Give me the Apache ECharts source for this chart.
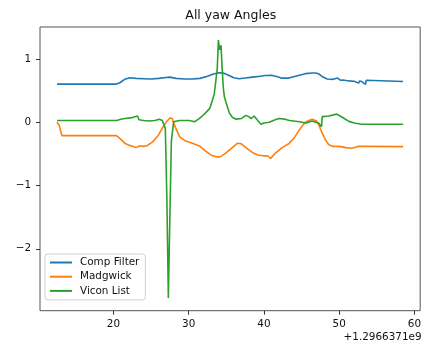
<!DOCTYPE html>
<html>
<head>
<meta charset="utf-8">
<script src="https://cdn.jsdelivr.net/npm/echarts@6/dist/echarts.min.js"></script>
<style>
  html, body { margin: 0; padding: 0; background: #fff; }
  #chart { width: 424px; height: 344px; }
</style>
</head>
<body>
<div id="chart"></div>
<script>
// Time axis values are seconds relative to the 1.2966371e9 offset shown under the axis.
const xTicks = [20, 30, 40, 50, 60];
const yTicks = [-2, -1, 0, 1];
const timeOffsetLabel = '+1.2966371e9';

// Complementary filter yaw estimate
const compT = [12.5, 20.4, 20.9, 21.5, 22.2, 23.0, 24.0, 25.0, 26.0, 27.0, 27.5, 28.3, 29.5, 30.5,
  31.5, 32.5, 33.3, 34.0, 34.6, 35.3, 36.0, 36.7, 37.5, 38.5, 39.5, 40.2, 41.0, 41.8, 42.3, 43.3,
  44.2, 45.5, 46.4, 46.9, 47.3, 47.8, 48.4, 49.2, 49.8, 50.2, 50.5, 51.3, 52.0, 52.6, 52.7, 53.0,
  53.5, 53.6, 53.8, 58.5];
const compV = [0.605, 0.605, 0.63, 0.68, 0.705, 0.695, 0.69, 0.685, 0.695, 0.71, 0.715, 0.695, 0.685, 0.685,
  0.695, 0.73, 0.765, 0.785, 0.78, 0.745, 0.705, 0.69, 0.70, 0.715, 0.73, 0.74, 0.745, 0.72, 0.70, 0.70,
  0.73, 0.77, 0.78, 0.78, 0.765, 0.72, 0.685, 0.68, 0.70, 0.665, 0.67, 0.655, 0.65, 0.62, 0.655, 0.645,
  0.60, 0.665, 0.645, 0.645];

// Madgwick filter yaw estimate
const madgT = [12.5, 12.8, 13.15, 20.4, 21.0, 21.5, 22.0, 22.5, 23.0, 23.5, 24.0, 24.5, 25.2, 26.0,
  26.5, 27.0, 27.5, 27.8, 28.1, 28.8, 29.5, 30.5, 31.5, 32.3, 33.0, 33.8, 34.3, 35.0, 35.8, 36.5,
  37.0, 37.6, 38.5, 39.3, 40.0, 40.5, 40.9, 41.5, 42.4, 43.3, 44.0, 44.7, 45.2, 45.6, 46.4, 47.0,
  47.3, 47.7, 48.2, 48.6, 49.1, 50.0, 50.9, 51.7, 52.6, 53.5, 58.5];
const madgV = [0.0, -0.05, -0.21, -0.21, -0.27, -0.33, -0.36, -0.38, -0.40, -0.37, -0.38, -0.37, -0.31, -0.20,
  -0.09, 0.0, 0.07, 0.06, -0.04, -0.23, -0.29, -0.33, -0.38, -0.46, -0.52, -0.55, -0.54, -0.48, -0.40, -0.33,
  -0.34, -0.40, -0.48, -0.52, -0.53, -0.53, -0.57, -0.49, -0.40, -0.34, -0.25, -0.12, -0.04, 0.01, 0.05, 0.02,
  -0.04, -0.16, -0.28, -0.35, -0.38, -0.38, -0.40, -0.41, -0.38, -0.38, -0.385];

// Vicon motion-capture reference yaw
const viconT = [12.5, 20.4, 21.0, 21.5, 22.3, 23.2, 23.4, 24.0, 24.8, 25.5, 26.1, 26.5, 26.9, 27.1,
  27.3, 27.5, 27.7, 28.0, 28.8, 30.1, 30.8, 31.4, 32.0, 32.4, 32.8, 33.15, 33.4, 33.6, 33.8, 33.95,
  34.1, 34.2, 34.3, 34.45, 34.6, 34.75, 35.0, 35.4, 35.8, 36.3, 37.0, 37.6, 38.0, 38.3, 38.7, 39.1,
  39.6, 40.0, 40.7, 41.5, 42.0, 42.8, 43.4, 44.0, 44.7, 45.6, 46.4, 47.3, 47.65, 47.75, 48.6, 49.7,
  50.4, 51.3, 52.0, 53.0, 58.5];
const viconV = [0.03, 0.03, 0.05, 0.06, 0.07, 0.10, 0.04, 0.03, 0.02, 0.03, 0.05, 0.03, -0.1, -1.2,
  -2.78, -1.5, -0.3, 0.01, 0.03, 0.03, 0.01, 0.06, 0.12, 0.17, 0.22, 0.35, 0.45, 0.65, 0.85, 1.30,
  1.15, 1.12, 1.22, 0.85, 0.55, 0.40, 0.30, 0.15, 0.08, 0.05, 0.06, 0.11, 0.09, 0.06, 0.10, 0.04,
  -0.03, -0.01, 0.0, 0.04, 0.06, 0.05, 0.03, 0.02, 0.01, -0.01, 0.02, -0.015, -0.07, 0.09, 0.10, 0.13,
  0.08, 0.015, -0.01, -0.03, -0.03];

const seriesNames = ['Comp Filter', 'Madgwick', 'Vicon List'];
const seriesColors = ['#1f77b4', '#ff7f0e', '#2ca02c'];

const pair = (ts, vs) => ts.map((t, i) => [t, vs[i]]);
const seriesData = [pair(compT, compV), pair(madgT, madgV), pair(viconT, viconV)];

const FONT = 'DejaVu Sans';
const chart = echarts.init(document.getElementById('chart'), null, { renderer: 'canvas' });

chart.setOption({
  animation: false,
  backgroundColor: '#fff',
  title: {
    text: 'All yaw Angles',
    left: 230.75,
    textAlign: 'center',
    top: 9.5,
    padding: 0,
    textStyle: { fontFamily: FONT, fontSize: 12.5, fontWeight: 'normal', color: '#111' }
  },
  grid: {
    left: 40, top: 27, right: 2.5, bottom: 33.3,
    show: true, borderColor: '#555', borderWidth: 1, backgroundColor: 'transparent'
  },
  xAxis: {
    type: 'value',
    min: 10.24, max: 60.77,
    axisLine: { show: false, onZero: false },
    splitLine: { show: false },
    axisTick: { show: true, length: 4, lineStyle: { color: '#333' }, customValues: xTicks },
    axisLabel: { customValues: xTicks, margin: 8.5, fontFamily: FONT, fontSize: 10.4, color: '#111' }
  },
  yAxis: {
    type: 'value',
    min: -2.98, max: 1.508,
    axisLine: { show: false, onZero: false },
    splitLine: { show: false },
    axisTick: { show: true, length: 4, lineStyle: { color: '#333' }, customValues: yTicks },
    axisLabel: {
      customValues: yTicks, margin: 9, fontFamily: FONT, fontSize: 10.4, color: '#111',
      formatter: v => (v < 0 ? '\u2212' + Math.abs(v) : String(v))
    }
  },
  legend: {
    orient: 'vertical',
    left: 45, top: 254,
    padding: [3.5, 6, 4, 4],
    itemWidth: 22, itemHeight: 12, itemGap: 4.2,
    itemStyle: { opacity: 0 },
    backgroundColor: 'rgba(255,255,255,0.8)',
    borderColor: '#d0d0d0', borderWidth: 1, borderRadius: 3,
    textStyle: { fontFamily: FONT, fontSize: 10.4, color: '#111', padding: [0, 0, 0, 3] },
    data: seriesNames
  },
  graphic: [{
    type: 'text',
    right: 2.5, top: 332,
    style: { text: timeOffsetLabel, fontFamily: FONT, fontSize: 10.4, fill: '#111' }
  }],
  series: seriesNames.map((name, i) => ({
    name,
    type: 'line',
    data: seriesData[i],
    symbol: 'none',
    showSymbol: false,
    lineStyle: { color: seriesColors[i], width: 1.6 },
    itemStyle: { color: seriesColors[i] }
  }))
});
</script>
</body>
</html>
